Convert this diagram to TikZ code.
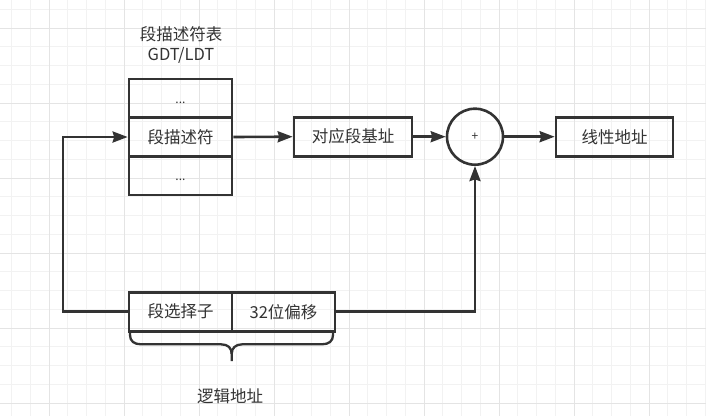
\documentclass[tikz,border=0pt]{standalone}
\usepackage{fontspec}
\setmainfont{Noto Sans CJK SC}
\usetikzlibrary{arrows.meta}
\definecolor{ink}{HTML}{333333}
\definecolor{gridminor}{HTML}{F2F2F2}
\definecolor{gridmajor}{HTML}{E4E4E4}
\tikzset{
  box/.style={draw=ink, line width=2.7pt, minimum width=103pt, minimum height=39pt,
    inner sep=0pt, text=ink, font=\fontsize{16.5}{19}\selectfont},
  dots/.style={box, font=\fontsize{12}{14}\selectfont},
  sumcircle/.style={draw=ink, line width=2.6pt, circle, minimum size=56pt, inner sep=0pt,
    text=ink, font=\fontsize{12}{14}\selectfont},
  link/.style={draw=ink, line width=2.6pt, -{Stealth[length=15pt,width=11pt,inset=1.5pt]}},
  label/.style={text=ink, font=\fontsize{16.5}{20}\selectfont, align=center, inner sep=0pt},
}
\begin{document}
\begin{tikzpicture}[x=1pt,y=-1pt]
\useasboundingbox (0,0) rectangle (706,416);
\fill[white] (0,0) rectangle (706,416);
% grid
\foreach \i in {0,...,37} {
  \draw[gridminor, line width=1pt] (11.5+18.75*\i,0) -- (11.5+18.75*\i,416);
}
\foreach \j in {0,...,22} {
  \draw[gridminor, line width=1pt] (0,9.4+18.75*\j) -- (706,9.4+18.75*\j);
}
\foreach \i in {0,...,8} {
  \draw[gridmajor, line width=1pt] (49+75*\i,0) -- (49+75*\i,416);
}
\foreach \j in {0,...,5} {
  \draw[gridmajor, line width=1pt] (0,28.15+75*\j) -- (706,28.15+75*\j);
}

% title
\node[label] (title) at (181,45) {段描述符表\\GDT/LDT};

% descriptor table
\node[dots] (row1) at (180.5,98.5) {\vphantom{段}...};
\node[box]  (row2) at (180.5,137)  {段描述符};
\node[dots] (row3) at (180.5,175.5) {\vphantom{段}...};

% base, adder, linear
\node[box, minimum width=118pt] (base) at (353,136.7) {对应段基址};
\node[sumcircle] (sum) at (475,136.7) {+};
\node[box, minimum width=117pt] (linear) at (614.5,136.7) {线性地址};

% logical address
\node[box] (sel) at (180.5,311.7) {段选择子};
\node[box] (off) at (283.5,311.7) {32位偏移};

\coordinate (lcorner) at (63,311.7);
\coordinate (lup) at (63,137);

\draw[link] (sel.west) -- (lcorner) -- (lup) -- (row2.west);
\draw[link] (row2.east) -- (base.west);
\draw[link] (base.east) -- (sum.west);
\draw[link] (sum.east) -- (linear.west);
\draw[link] (off.east) -- (sum.south |- off.east) -- (sum.south);

% brace
\draw[ink, line width=2.3pt, line join=round]
  (130,332) -- (130,335) .. controls (130,341) and (134,344.3) .. (141,344.3)
  -- (221,344.3) .. controls (228,344.3) and (231.7,348) .. (231.7,354) -- (231.7,361);
\draw[ink, line width=2.3pt, line join=round]
  (333,332) -- (333,335) .. controls (333,341) and (329,344.3) .. (322,344.3)
  -- (242.4,344.3) .. controls (235.4,344.3) and (231.7,348) .. (231.7,354);

\node[label] (logical) at (230,396) {逻辑地址};
\end{tikzpicture}
\end{document}
